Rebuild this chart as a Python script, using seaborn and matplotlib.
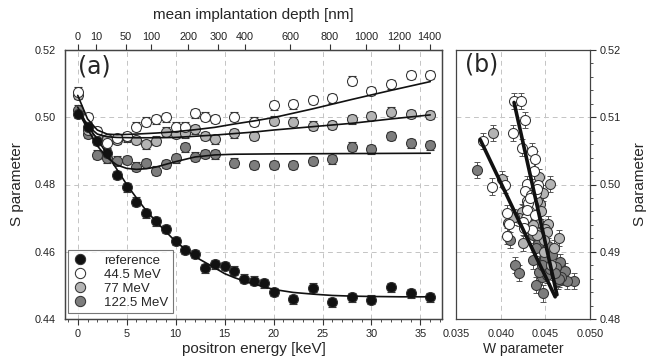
import numpy as np
import pandas as pd
import matplotlib
matplotlib.use("Agg")
import matplotlib.pyplot as plt
from matplotlib.lines import Line2D
from matplotlib.ticker import MultipleLocator
import seaborn as sns

sns.set_style("white")
plt.rcParams['font.family'] = ['Liberation Sans', 'DejaVu Sans']

# ---------------- data: panel (a) ----------------
E_ref = [0, 1, 2, 3, 4, 5, 6, 7, 8, 9, 10, 11, 12, 13, 14, 15, 16, 17, 18, 19, 20,
         22, 24, 26, 28, 30, 32, 34, 36]
S_ref = [0.5010, 0.4970, 0.4930, 0.4893, 0.4828, 0.4792, 0.4749, 0.4714, 0.4690, 0.4668,
         0.4632, 0.4605, 0.4593, 0.4551, 0.4563, 0.4558, 0.4544, 0.4520, 0.4514, 0.4506,
         0.4480, 0.4459, 0.4493, 0.4450, 0.4465, 0.4457, 0.4494, 0.4476, 0.4465]

E_irr = [0, 1, 2, 3, 4, 5, 6, 7, 8, 9, 10, 11, 12, 13, 14, 16, 18, 20, 22, 24, 26, 28,
         30, 32, 34, 36]
S_445 = [0.5076, 0.5000, 0.4958, 0.4923, 0.4937, 0.4944, 0.4972, 0.4987, 0.4994, 0.5000,
         0.4972, 0.4972, 0.5012, 0.5002, 0.4995, 0.5002, 0.4987, 0.5036, 0.5039, 0.5051,
         0.5056, 0.5109, 0.5078, 0.5098, 0.5126, 0.5126]
S_77 = [0.5066, 0.4962, 0.4941, 0.4935, 0.4933, 0.4940, 0.4932, 0.4920, 0.4930, 0.4957,
        0.4950, 0.4952, 0.4964, 0.4944, 0.4934, 0.4952, 0.4944, 0.4990, 0.4987, 0.4975,
        0.4977, 0.4994, 0.5004, 0.5017, 0.5010, 0.5007]
S_1225 = [0.5022, 0.4950, 0.4889, 0.4878, 0.4871, 0.4873, 0.4853, 0.4863, 0.4841, 0.4861,
          0.4878, 0.4911, 0.4883, 0.4891, 0.4890, 0.4865, 0.4858, 0.4858, 0.4858, 0.4870,
          0.4875, 0.4912, 0.4905, 0.4944, 0.4923, 0.4917]

# fitted curves
Efit_ref = [0, 1, 2, 3, 4, 5, 6, 7, 8, 9, 10, 12, 14, 15, 16, 17, 18, 20, 22, 24, 26, 28, 30, 33, 36]
Sfit_ref = [0.5015, 0.4975, 0.4935, 0.4890, 0.4845, 0.4800, 0.4760, 0.4722, 0.4690, 0.4660,
            0.4630, 0.4585, 0.4552, 0.4535, 0.4523, 0.4513, 0.4504, 0.4488, 0.4479, 0.4474,
            0.4470, 0.4468, 0.4467, 0.4466, 0.4466]
Efit_445 = [0, 1, 2, 3, 4, 6, 8, 10, 12, 14, 16, 18, 20, 24, 28, 32, 36]
Sfit_445 = [0.5065, 0.4995, 0.4962, 0.4950, 0.4948, 0.4950, 0.4953, 0.4957, 0.4963, 0.4970,
            0.4980, 0.4989, 0.4999, 0.5025, 0.5053, 0.5080, 0.5106]
Efit_77 = [0, 1, 2, 3, 4, 6, 8, 10, 14, 18, 20, 24, 28, 32, 36]
Sfit_77 = [0.5030, 0.4975, 0.4950, 0.4942, 0.4940, 0.4939, 0.4939, 0.4940, 0.4947, 0.4956,
           0.4962, 0.4972, 0.4982, 0.4995, 0.5007]
Efit_1225 = [0, 1, 2, 3, 4, 5, 6, 7, 8, 9, 10, 12, 14, 16, 20, 28, 36]
Sfit_1225 = [0.5020, 0.4965, 0.4915, 0.4880, 0.4858, 0.4848, 0.4845, 0.4847, 0.4852, 0.4860,
             0.4868, 0.4882, 0.4888, 0.4890, 0.4891, 0.4892, 0.4893]

S_err = 0.0013

# top axis: mean implantation depth ticks [nm]
depth_ticks = [0, 10, 50, 100, 200, 300, 400, 600, 800, 1000, 1200, 1400]
depth_A = 3.41   # z = A * E^n  (nm, keV)
depth_n = 1.68

# ---------------- data: panel (b) ----------------
W_445 = [0.04153, 0.04224, 0.04272, 0.04134, 0.03806, 0.04235, 0.04347, 0.04384, 0.03899,
         0.04049, 0.04299, 0.04422, 0.04272, 0.04340, 0.04067, 0.04097, 0.04075, 0.04347,
         0.04358, 0.04300, 0.04320, 0.04280, 0.04400, 0.04250, 0.04370, 0.04310,
         0.04330, 0.04290, 0.04380, 0.04260, 0.04410]
Sb_445 = [0.5124, 0.5124, 0.5096, 0.5077, 0.5065, 0.5055, 0.5050, 0.5038, 0.4997, 0.5000,
          0.5001, 0.5000, 0.4991, 0.4985, 0.4957, 0.4941, 0.4923, 0.4933, 0.4969, 0.4975,
          0.4960, 0.4950, 0.4987, 0.4944, 0.5020, 0.4972, 0.4980, 0.4962, 0.4955, 0.4935,
          0.4993]
W_77 = [0.03910, 0.04011, 0.04552, 0.04235, 0.04433, 0.04534, 0.04254, 0.04440, 0.04086,
        0.04657, 0.04380, 0.04300, 0.04420, 0.04500, 0.04350, 0.04470, 0.04200, 0.04600,
        0.04410, 0.04520, 0.04150, 0.04320, 0.04480, 0.04390, 0.04560, 0.04270,
        0.04360, 0.04450, 0.04410, 0.04330, 0.04490]
Sb_77 = [0.5077, 0.5008, 0.5001, 0.4959, 0.5011, 0.4941, 0.4913, 0.4971, 0.4943, 0.4921,
         0.4952, 0.4964, 0.4944, 0.4934, 0.4990, 0.4987, 0.4950, 0.4905, 0.4975, 0.4930,
         0.4952, 0.4994, 0.4917, 0.4930, 0.4880, 0.4944, 0.4940, 0.4960, 0.4925, 0.4972,
         0.4900]
W_1225 = [0.03739, 0.04160, 0.04209, 0.04396, 0.04470, 0.04459, 0.04664, 0.04720, 0.04821,
          0.04746, 0.04646, 0.04366, 0.04104, 0.04534, 0.04590, 0.04254, 0.04515, 0.04620,
          0.04480, 0.04420, 0.04680, 0.04300, 0.04550, 0.04400, 0.04650, 0.04500,
          0.04430, 0.04570, 0.04360, 0.04610, 0.04460]
Sb_1225 = [0.5021, 0.4880, 0.4868, 0.4851, 0.4838, 0.4863, 0.4885, 0.4872, 0.4857, 0.4857,
           0.4857, 0.4887, 0.4917, 0.4909, 0.4870, 0.4957, 0.4865, 0.4878, 0.4891, 0.4911,
           0.4863, 0.4940, 0.4875, 0.4905, 0.4860, 0.4890, 0.4870, 0.4895, 0.4925, 0.4868,
           0.4880]
W_err = 0.00022
Sb_err = 0.0012

# linear fit lines in (b): endpoints
line1_W = [0.0377, 0.0461]
line1_S = [0.5067, 0.4833]
line2_W = [0.0415, 0.0463]
line2_S = [0.5122, 0.4836]

labels = ["reference", "44.5 MeV", "77 MeV", "122.5 MeV"]
face = {"reference": "#111111", "44.5 MeV": "#ffffff", "77 MeV": "#b4b4b4",
        "122.5 MeV": "#7d7d7d"}
edge = "#333333"

# ---------------- figure ----------------
W_px, H_px = 663, 361
fig = plt.figure(figsize=(W_px / 100, H_px / 100), dpi=100)
ax = fig.add_axes([65 / W_px, 42 / H_px, 377 / W_px, 269 / H_px])
axb = fig.add_axes([456 / W_px, 42 / H_px, 134 / W_px, 269 / H_px])

grid_kw = dict(color="#c4c4c4", lw=0.7, ls=(0, (5, 4)))
tick_fs = 7.8
lab_fs = 11

for a in (ax, axb):
    for s in a.spines.values():
        s.set_color("#444444")
        s.set_linewidth(0.9)

# panel (a)
series_a = [
    ("122.5 MeV", E_irr, S_1225, Efit_1225, Sfit_1225),
    ("77 MeV", E_irr, S_77, Efit_77, Sfit_77),
    ("44.5 MeV", E_irr, S_445, Efit_445, Sfit_445),
    ("reference", E_ref, S_ref, Efit_ref, Sfit_ref),
]
for lab, Ex, Sy, Ef, Sf in series_a:
    ax.errorbar(Ex, Sy, yerr=S_err, fmt="none", ecolor="#333333", elinewidth=0.8,
                capsize=3.2, capthick=0.8, zorder=2)
    df = pd.DataFrame({"E": Ex, "S": Sy})
    sns.scatterplot(data=df, x="E", y="S", ax=ax, color=face[lab], edgecolor=edge,
                    linewidth=0.75, s=52, zorder=3, legend=False)
for lab, Ex, Sy, Ef, Sf in series_a:
    dff = pd.DataFrame({"E": Ef, "S": Sf})
    sns.lineplot(data=dff, x="E", y="S", ax=ax, color="#111111", lw=1.2, zorder=4,
                 legend=False, sort=True)

ax.set_xlim(-1.3, 37.2)
ax.set_ylim(0.44, 0.52)
ax.xaxis.set_major_locator(MultipleLocator(5))
ax.xaxis.set_minor_locator(MultipleLocator(1))
ax.yaxis.set_minor_locator(MultipleLocator(0.004))
ax.set_yticks([0.44, 0.46, 0.48, 0.50, 0.52])
ax.set_yticklabels(["0.44", "0.46", "0.48", "0.50", "0.52"])
ax.grid(True, which="major", **grid_kw)
ax.set_axisbelow(True)
ax.tick_params(axis="both", which="major", direction="out", length=4, width=0.8,
               labelsize=tick_fs, colors="#333333", labelcolor="#222222", pad=3)
ax.tick_params(axis="both", which="minor", direction="out", length=2.2, width=0.6,
               colors="#333333")
ax.tick_params(top=False, right=False, which="both")
ax.set_xlabel("positron energy [keV]", fontsize=lab_fs, labelpad=2)
ax.set_ylabel("S parameter", fontsize=lab_fs, labelpad=7)
ax.text(0.035, 0.985, "(a)", transform=ax.transAxes, fontsize=17, va="top", ha="left",
        family="DejaVu Sans")

# top axis
axt = ax.twiny()
axt.set_xlim(ax.get_xlim())
axt.set_xticks([(z / depth_A) ** (1 / depth_n) for z in depth_ticks])
axt.set_xticklabels([str(z) for z in depth_ticks])
axt.tick_params(axis="x", direction="out", length=4, width=0.8, labelsize=tick_fs,
                colors="#333333", labelcolor="#222222", pad=2)
axt.set_xlabel("mean implantation depth [nm]", fontsize=lab_fs, labelpad=9)
for s in axt.spines.values():
    s.set_color("#444444")
    s.set_linewidth(0.9)

# legend
handles = [Line2D([0], [0], marker="o", ls="none", markersize=7.4,
                  markerfacecolor=face[l], markeredgecolor=edge, markeredgewidth=0.75)
           for l in labels]
leg = ax.legend(handles, labels, loc="lower left", bbox_to_anchor=(0.0, 0.012),
                fontsize=9.5, frameon=True, fancybox=False, handlelength=1.2,
                handletextpad=1.2, labelspacing=0.12, borderpad=0.35,
                borderaxespad=0.2)
leg.get_frame().set_edgecolor("#555555")
leg.get_frame().set_linewidth(0.8)

# panel (b)
series_b = [
    ("122.5 MeV", W_1225, Sb_1225),
    ("77 MeV", W_77, Sb_77),
    ("44.5 MeV", W_445, Sb_445),
]
for lab, Wx, Sy in series_b:
    axb.errorbar(Wx, Sy, xerr=W_err, yerr=Sb_err, fmt="none", ecolor="#555555",
                 elinewidth=0.7, capsize=2.5, capthick=0.7, zorder=2)
    df = pd.DataFrame({"W": Wx, "S": Sy})
    sns.scatterplot(data=df, x="W", y="S", ax=axb, color=face[lab], edgecolor=edge,
                    linewidth=0.75, s=52, zorder=3, legend=False)
sns.lineplot(x=line1_W, y=line1_S, ax=axb, color="#111111", lw=2.6, zorder=5)
sns.lineplot(x=line2_W, y=line2_S, ax=axb, color="#111111", lw=2.6, zorder=5)

axb.set_xlim(0.035, 0.050)
axb.set_ylim(0.48, 0.52)
axb.set_xticks([0.035, 0.040, 0.045, 0.050])
axb.set_xticklabels(["0.035", "0.040", "0.045", "0.050"])
axb.xaxis.set_minor_locator(MultipleLocator(0.001))
axb.set_yticks([0.48, 0.49, 0.50, 0.51, 0.52])
axb.set_yticklabels(["0.48", "0.49", "0.50", "0.51", "0.52"])
axb.yaxis.set_minor_locator(MultipleLocator(0.002))
axb.grid(True, which="major", **grid_kw)
axb.set_axisbelow(True)
axb.yaxis.tick_right()
axb.yaxis.set_label_position("right")
axb.tick_params(axis="both", which="major", direction="out", length=4, width=0.8,
                labelsize=tick_fs, colors="#333333", labelcolor="#222222", pad=3)
axb.tick_params(axis="both", which="minor", direction="out", length=2.2, width=0.6,
                colors="#333333")
axb.set_xlabel("W parameter", fontsize=lab_fs - 1, labelpad=2)
axb.set_ylabel("S parameter", fontsize=lab_fs, labelpad=9)
axb.text(0.07, 0.99, "(b)", transform=axb.transAxes, fontsize=17, va="top", ha="left",
         family="DejaVu Sans")

fig.savefig("out.png", dpi=100)
